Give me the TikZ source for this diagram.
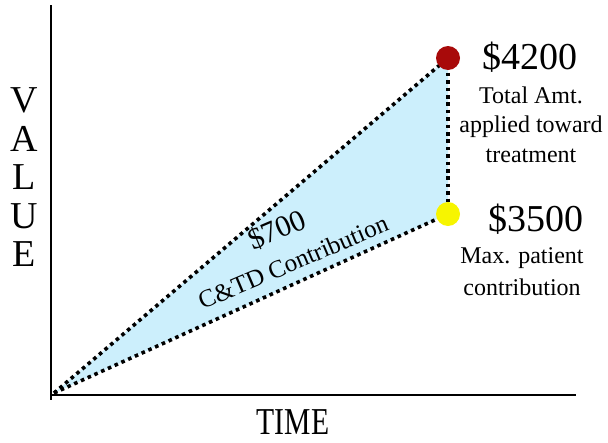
\documentclass[tikz,border=0pt]{standalone}
\usepackage{fontspec}
\setmainfont{Liberation Serif}
\usepackage{graphicx}

\newcommand\amtfont{\fontsize{38}{38}\selectfont}
\newcommand\notefont{\fontsize{24}{29.5}\selectfont}
\newcommand\axisfont{\fontsize{38}{38}\selectfont}
\newcommand\peakx{448}
\newcommand\letterstep{38.6}
\definecolor{wedgeblue}{HTML}{CCEFFC}
\definecolor{totalred}{HTML}{A80A0A}
\definecolor{maxyellow}{HTML}{F7F500}

\begin{document}
\begin{tikzpicture}[x=1pt, y=-1pt,
    axis/.style={line width=2.2pt},
    dotline/.style={line width=3.6pt, dash pattern=on 3.6pt off 3.8pt},
    marker/.style={circle, inner sep=0pt, minimum size=24pt},
    amt/.style={font=\amtfont, inner sep=0pt, anchor=base},
    note/.style={font=\notefont, align=center, inner sep=0pt, anchor=base},
    axislabel/.style={font=\axisfont, inner sep=0pt}]
    \useasboundingbox (0,0) rectangle (608,442);
    \draw[axis] (51,5) -- (51,400);
    \draw[axis] (50,395) -- (576,395);
    \coordinate (O) at (54,393);
    \coordinate (top) at (\peakx,58);
    \coordinate (bot) at (\peakx,214);
    \fill[wedgeblue] (O) -- (top) -- (bot) -- cycle;
    \draw[dotline] (O) -- (top);
    \draw[dotline] (O) -- (bot);
    \draw[dotline] (top) -- (bot);
    \node[marker, fill=totalred] (total) at (top) {};
    \node[marker, fill=maxyellow] (max) at (bot) {};
    % amounts on the right, notes placed by their last baseline
    \node[amt] (totalamt) at (530,69) {\$4200};
    \node[note] (totalnote) at (531,162) {Total Amt.\\applied toward\\treatment};
    \node[amt] (maxamt) at (536,231) {\$3500};
    \node[note, font=\fontsize{24}{32}\selectfont] (maxnote) at (522,295) {Max. patient\\contribution};
    % the gap between them
    \node[font=\fontsize{30}{30}\selectfont, rotate=23, inner sep=0pt] (gapamt) at (277,230) {\$700};
    \node[font=\fontsize{25}{25}\selectfont, rotate=23, inner sep=0pt] (gapnote) at (293,262) {C\&TD Contribution};
    \foreach \letter [count=\i] in {V,A,L,U,E}
      \node[axislabel] (value\i) at (24, {100 + \letterstep * (\i - 1)}) {\letter};
    \node[axislabel] (time) at (293,422) {\scalebox{0.78}[1]{TIME}};
\end{tikzpicture}
\end{document}
